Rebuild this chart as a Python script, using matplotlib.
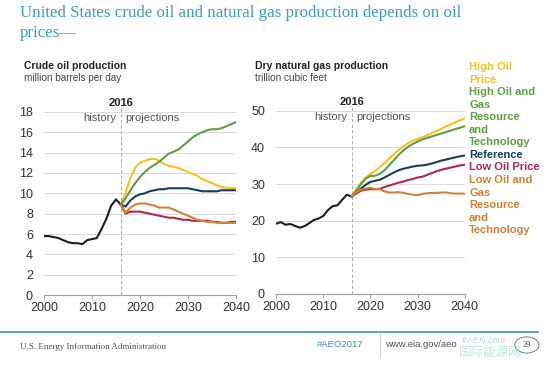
import matplotlib
matplotlib.use("Agg")
import matplotlib.pyplot as plt
from matplotlib.patches import Circle

# history years and projection years
hist_years = list(range(2000, 2017))
proj_years = list(range(2016, 2041))

# crude oil production, million barrels per day
oil_hist = [5.8, 5.8, 5.7, 5.6, 5.4, 5.2, 5.1, 5.1, 5.0, 5.4, 5.5, 5.6, 6.5, 7.5, 8.8, 9.4, 8.9]
oil_high_price = [8.9, 10.0, 11.5, 12.5, 13.0, 13.2, 13.35, 13.4, 13.2, 12.9, 12.7, 12.6, 12.5,
                  12.3, 12.1, 11.9, 11.7, 11.4, 11.2, 11.0, 10.8, 10.6, 10.55, 10.5, 10.5]
oil_high_tech = [8.9, 9.5, 10.3, 11.0, 11.6, 12.1, 12.5, 12.8, 13.1, 13.5, 13.9, 14.1, 14.3,
                 14.7, 15.1, 15.5, 15.8, 16.0, 16.2, 16.3, 16.3, 16.4, 16.6, 16.8, 17.0]
oil_reference = [8.9, 8.7, 9.3, 9.7, 9.9, 10.0, 10.2, 10.3, 10.4, 10.4, 10.5, 10.5, 10.5,
                 10.5, 10.5, 10.4, 10.3, 10.2, 10.2, 10.2, 10.2, 10.3, 10.3, 10.3, 10.3]
oil_low_price = [8.9, 8.0, 8.2, 8.2, 8.2, 8.1, 8.0, 7.9, 7.8, 7.7, 7.6, 7.6, 7.5,
                 7.4, 7.4, 7.3, 7.3, 7.3, 7.3, 7.2, 7.2, 7.1, 7.1, 7.2, 7.2]
oil_low_tech = [8.9, 8.1, 8.6, 8.9, 9.0, 9.0, 8.9, 8.8, 8.6, 8.6, 8.6, 8.4, 8.2,
                8.0, 7.8, 7.6, 7.4, 7.3, 7.2, 7.2, 7.1, 7.1, 7.1, 7.1, 7.1]

# dry natural gas production, trillion cubic feet
gas_hist = [19.2, 19.6, 18.9, 19.1, 18.6, 18.1, 18.5, 19.3, 20.2, 20.6, 21.3, 22.9, 24.0,
            24.2, 25.7, 27.1, 26.6]
gas_high_price = [26.6, 28.5, 30.3, 31.8, 32.8, 33.6, 34.6, 35.8, 37.0, 38.2, 39.3, 40.3, 41.2,
                  41.9, 42.3, 42.8, 43.3, 43.9, 44.5, 45.1, 45.7, 46.3, 46.9, 47.4, 48.0]
gas_high_tech = [26.6, 28.3, 30.0, 31.5, 32.2, 32.3, 32.8, 33.8, 35.2, 36.6, 38.0, 39.2, 40.2,
                 41.0, 41.6, 42.2, 42.6, 43.0, 43.4, 43.8, 44.2, 44.6, 45.0, 45.4, 45.8]
gas_reference = [26.6, 27.5, 28.8, 29.8, 30.6, 30.9, 31.2, 31.8, 32.5, 33.2, 33.8, 34.2, 34.5,
                 34.8, 35.0, 35.1, 35.3, 35.6, 36.0, 36.4, 36.7, 37.0, 37.3, 37.6, 37.8]
gas_low_price = [26.6, 27.5, 28.2, 28.5, 28.6, 28.6, 28.7, 29.2, 29.6, 30.0, 30.4, 30.7, 31.1,
                 31.4, 31.8, 32.0, 32.5, 33.0, 33.5, 33.9, 34.2, 34.5, 34.8, 35.1, 35.3]
gas_low_tech = [26.6, 27.8, 28.5, 28.8, 29.0, 28.6, 28.6, 28.0, 27.7, 27.7, 27.8, 27.6, 27.3,
                27.1, 27.0, 27.3, 27.5, 27.6, 27.6, 27.7, 27.7, 27.5, 27.4, 27.4, 27.4]

case_names = ["High Oil\nPrice", "High Oil and\nGas\nResource\nand\nTechnology", "Reference",
              "Low Oil Price", "Low Oil and\nGas\nResource\nand\nTechnology"]
case_colors = ["#F2C41C", "#5E9E44", "#123F5E", "#B52745", "#CF8233"]

plt.rcParams["font.family"] = ["Liberation Sans", "DejaVu Sans"]

fig = plt.figure(figsize=(5.5, 3.67), dpi=100)
ax1 = fig.add_axes([0.080, 0.196, 0.349, 0.499])
ax2 = fig.add_axes([0.502, 0.199, 0.343, 0.499])


def draw_panel(ax, hist, cases, ymax, ystep):
    ax.plot(hist_years, hist, color="#16202B", lw=1.5, zorder=3)
    for vals, col in zip(cases, case_colors):
        ax.plot(proj_years, vals, color=col, lw=1.5, zorder=3)
    ax.set_xlim(2000, 2040)
    ax.set_ylim(0, ymax)
    ax.set_yticks(range(0, ymax + 1, ystep))
    ax.set_xticks([2000, 2010, 2020, 2030, 2040])
    ax.grid(axis="y", color="#DADADA", lw=0.7)
    ax.set_axisbelow(True)
    for s in ["top", "right", "left"]:
        ax.spines[s].set_visible(False)
    ax.spines["bottom"].set_color("#A0A0A0")
    ax.tick_params(axis="y", length=0, labelsize=9, colors="#333333", pad=8)
    ax.tick_params(axis="x", length=3, color="#A0A0A0", labelsize=9, colors="#333333", pad=2)
    ax.axvline(2016, ymin=0, ymax=1.02, color="#B0B0B0", lw=0.8, ls=(0, (3, 2)), clip_on=False)
    ax.text(2016, ymax * 1.05, "2016", ha="center", va="center", fontsize=8, fontweight="bold",
            color="#222222")
    ax.text(2015, ymax * 0.965, "history", ha="right", va="center", fontsize=8, color="#555555")
    ax.text(2017, ymax * 0.965, "projections", ha="left", va="center", fontsize=8,
            color="#555555")


draw_panel(ax1, oil_hist, [oil_high_price, oil_high_tech, oil_reference, oil_low_price,
                           oil_low_tech], 18, 2)
draw_panel(ax2, gas_hist, [gas_high_price, gas_high_tech, gas_reference, gas_low_price,
                           gas_low_tech], 50, 10)

# panel headings
fig.text(0.044, 0.820, "Crude oil production", fontsize=7.5, fontweight="bold",
         color="#222222", va="center")
fig.text(0.044, 0.787, "million barrels per day", fontsize=7.2, color="#444444", va="center")
fig.text(0.464, 0.820, "Dry natural gas production", fontsize=7.5, fontweight="bold",
         color="#222222", va="center")
fig.text(0.464, 0.787, "trillion cubic feet", fontsize=7.2, color="#444444", va="center")

# case labels at right, one line at a time
line_px = 67.0
for name, col in zip(case_names, case_colors):
    for part in name.split("\n"):
        fig.text(469 / 550, 1 - line_px / 367, part, fontsize=8, fontweight="bold", color=col,
                 va="center")
        line_px += 12.55

# title
fig.text(0.036, 0.964, "United States crude oil and natural gas production depends on oil",
         fontsize=12.2, family="Liberation Serif", color="#3C9CC4", va="center")
fig.text(0.036, 0.910, "prices\u2014", fontsize=12.2, family="Liberation Serif",
         color="#3C9CC4", va="center")

# footer
fig.add_artist(plt.Line2D([0.0, 0.978], [0.095, 0.095], color="#3E8FC7", lw=1.2))
fig.text(0.036, 0.054, "U.S. Energy Information Administration", fontsize=6.5,
         family="Liberation Serif", color="#555555", va="center")
fig.text(0.576, 0.060, "#AEO2017", fontsize=6.8, color="#3E8FC7", va="center")
fig.add_artist(plt.Line2D([0.691, 0.691], [0.030, 0.090], color="#CCCCCC", lw=0.7))
fig.text(0.700, 0.060, "www.eia.gov/aeo", fontsize=6.8, color="#555555", va="center")
fig.text(0.84, 0.072, "IN-EN.com", fontsize=6.5, style="italic", color="#8FD3A8", alpha=0.7,
         va="center")
fig.text(0.835, 0.040, "国际能源网", fontsize=9, family=["Noto Sans CJK SC", "DejaVu Sans"],
         color="#9ED8B4", alpha=0.6, va="center")
fig.add_artist(Circle((0.958, 0.060), 0.022, transform=fig.transFigure, fill=False,
                      ec="#666666", lw=0.6))
fig.text(0.958, 0.060, "29", fontsize=6, family="Liberation Serif", ha="center",
         va="center", color="#444444")

fig.savefig("out.png", dpi=100)
